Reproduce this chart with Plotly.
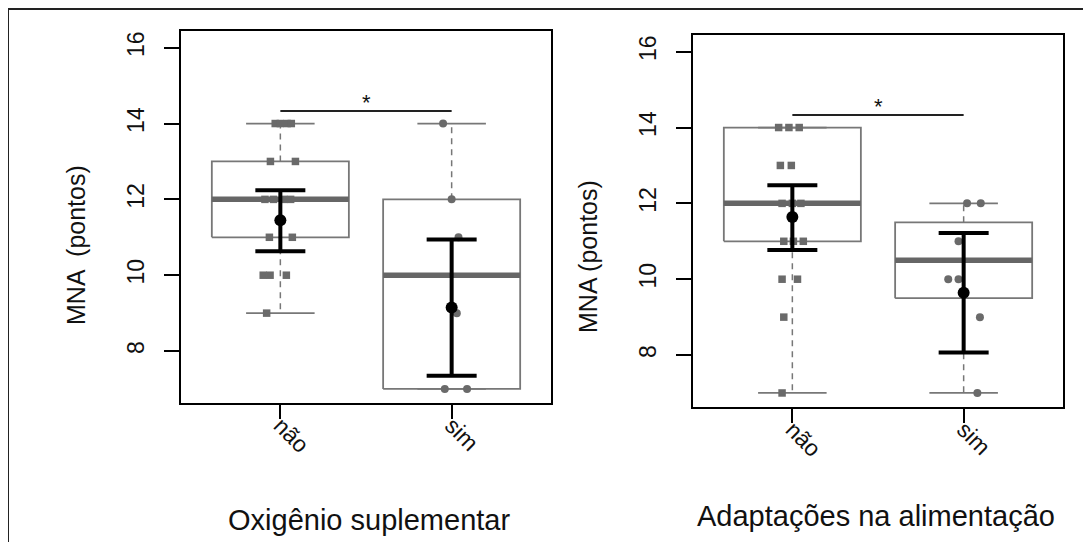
import plotly.graph_objects as go

W, H = 1091, 542
OFF = 8  # page body margin offset in the browser

categories = ["não", "sim"]
cat_pos = [1, 2]
y_tick_vals = [8, 10, 12, 14, 16]

# ---------- Panel 1: Oxigênio suplementar ----------
ox_title = "Oxigênio suplementar"
ox_ylabel = "MNA  (pontos)"
ox_q1 = [11, 7]
ox_median = [12, 10]
ox_q3 = [13, 12]
ox_whisk_lo = [9, 7]
ox_whisk_hi = [14, 14]
ox_mean = [11.45, 9.15]
ox_err_lo = [10.63, 7.35]
ox_err_hi = [12.24, 10.94]
ox_nao_pts = [14, 14, 14, 14, 13, 13, 12, 12, 12, 12, 11, 11, 10, 10, 10, 9]
ox_nao_jit = [-0.03, 0.0, 0.04, 0.064, -0.058, 0.088, -0.09, -0.04, 0.02, 0.06, -0.064, 0.07, -0.1, -0.06, 0.035, -0.08]
ox_sim_pts = [14, 12, 11, 9, 7, 7]
ox_sim_jit = [-0.05, 0.0, 0.04, 0.03, -0.04, 0.09]
ox_sig_y = 14.33

# ---------- Panel 2: Adaptações na alimentação ----------
ad_title = "Adaptações na alimentação"
ad_ylabel = "MNA (pontos)"
ad_q1 = [11, 9.5]
ad_median = [12, 10.5]
ad_q3 = [14, 11.5]
ad_whisk_lo = [7, 7]
ad_whisk_hi = [14, 12]
ad_mean = [11.64, 9.64]
ad_err_lo = [10.77, 8.07]
ad_err_hi = [12.48, 11.22]
ad_nao_pts = [14, 14, 14, 13, 13, 12, 12, 12, 11, 11, 11, 10, 10, 9, 7]
ad_nao_jit = [-0.08, -0.02, 0.04, -0.07, -0.006, -0.06, 0.0, 0.05, -0.05, 0.006, 0.064, -0.06, 0.03, -0.05, -0.06]
ad_sim_pts = [12, 12, 11, 10, 10, 9, 7]
ad_sim_jit = [0.02, 0.10, -0.03, -0.09, -0.03, 0.095, 0.08]
ad_sig_y = 14.33

BOX_COL = "#777777"
MED_COL = "#666666"
PT_COL = "#6a6a6a"
FONT = "Liberation Sans, Arial, sans-serif"

fig = go.Figure()


def px(x):
    return (x - OFF) / W


def py(y):
    return (H - (y - OFF)) / H


def add_panel(xa, ya, q1, med, q3, wlo, whi, mean, elo, ehi,
              pts_list, jit_list, symbols, sig_y):
    half = 0.4
    for i, c in enumerate(cat_pos):
        fig.add_trace(go.Scatter(x=[c, c, None, c, c], y=[q3[i], whi[i], None, q1[i], wlo[i]],
                                 mode="lines", line=dict(color=BOX_COL, width=1.5, dash="6px,5px"),
                                 xaxis=xa, yaxis=ya, hoverinfo="skip", showlegend=False))
        fig.add_trace(go.Scatter(x=[c - half / 2, c + half / 2, None, c - half / 2, c + half / 2],
                                 y=[whi[i], whi[i], None, wlo[i], wlo[i]],
                                 mode="lines", line=dict(color=BOX_COL, width=1.8),
                                 xaxis=xa, yaxis=ya, hoverinfo="skip", showlegend=False))
        fig.add_trace(go.Scatter(x=[c - half, c + half, c + half, c - half, c - half],
                                 y=[q1[i], q1[i], q3[i], q3[i], q1[i]],
                                 mode="lines", line=dict(color=BOX_COL, width=1.8),
                                 xaxis=xa, yaxis=ya, hoverinfo="skip", showlegend=False))
    for i, c in enumerate(cat_pos):
        fig.add_trace(go.Scatter(x=[c + j for j in jit_list[i]], y=pts_list[i], mode="markers",
                                 marker=dict(symbol=symbols[i], size=7.5 if symbols[i] == "square" else 8,
                                             color=PT_COL, line=dict(width=0)),
                                 xaxis=xa, yaxis=ya, hoverinfo="skip", showlegend=False))
    for i, c in enumerate(cat_pos):
        fig.add_trace(go.Scatter(x=[c - half, c + half], y=[med[i], med[i]],
                                 mode="lines", line=dict(color=MED_COL, width=5.5),
                                 xaxis=xa, yaxis=ya, hoverinfo="skip", showlegend=False))
    fig.add_trace(go.Scatter(x=cat_pos, y=mean, mode="markers",
                             marker=dict(color="black", size=12),
                             error_y=dict(type="data", symmetric=False,
                                          array=[h - m for h, m in zip(ehi, mean)],
                                          arrayminus=[m - l for m, l in zip(mean, elo)],
                                          color="black", thickness=4, width=25),
                             xaxis=xa, yaxis=ya, hoverinfo="skip", showlegend=False))
    fig.add_trace(go.Scatter(x=cat_pos, y=[sig_y, sig_y], mode="lines",
                             line=dict(color="#222222", width=2),
                             xaxis=xa, yaxis=ya, hoverinfo="skip", showlegend=False))


add_panel("x", "y", ox_q1, ox_median, ox_q3, ox_whisk_lo, ox_whisk_hi, ox_mean, ox_err_lo, ox_err_hi,
          [ox_nao_pts, ox_sim_pts], [ox_nao_jit, ox_sim_jit], ["square", "circle"], ox_sig_y)
add_panel("x2", "y2", ad_q1, ad_median, ad_q3, ad_whisk_lo, ad_whisk_hi, ad_mean, ad_err_lo, ad_err_hi,
          [ad_nao_pts, ad_sim_pts], [ad_nao_jit, ad_sim_jit], ["square", "circle"], ad_sig_y)


def xaxis_cfg(x0, x1):
    return dict(domain=[px(x0), px(x1)], range=[0.42, 2.58], tickvals=cat_pos, ticktext=categories,
                tickangle=45, ticks="outside", ticklen=14, tickwidth=2, tickcolor="black",
                showline=True, linewidth=2, linecolor="black", mirror=True,
                showgrid=False, zeroline=False, tickfont=dict(size=23, color="#111"),
                ticklabelstandoff=-16)


def yaxis_cfg(y0, y1, anchor):
    return dict(domain=[py(y1), py(y0)], range=[6.63, 16.44], tickvals=y_tick_vals,
                tickangle=-90, ticks="outside", ticklen=15, tickwidth=2, tickcolor="black",
                showline=True, linewidth=2, linecolor="black", mirror=True, anchor=anchor,
                showgrid=False, zeroline=False, tickfont=dict(size=23, color="#111"),
                ticklabelstandoff=11)


fig.update_layout(
    width=W, height=H, margin=dict(l=0, r=0, t=0, b=0),
    paper_bgcolor="white", plot_bgcolor="white",
    font=dict(family=FONT, color="#111"),
    xaxis=dict(xaxis_cfg(181, 551), anchor="y"),
    yaxis=yaxis_cfg(31, 403, "x"),
    xaxis2=dict(xaxis_cfg(693, 1063), anchor="y2"),
    yaxis2=yaxis_cfg(35, 407, "x2"),
)

ann = [
    dict(text=ox_title, x=px(369), y=py(520), xref="paper", yref="paper",
         showarrow=False, font=dict(size=29), xanchor="center", yanchor="middle"),
    dict(text=ad_title, x=px(876), y=py(516), xref="paper", yref="paper",
         showarrow=False, font=dict(size=29), xanchor="center", yanchor="middle"),
    dict(text=ox_ylabel, x=px(76), y=py(245), xref="paper", yref="paper", textangle=-90,
         showarrow=False, font=dict(size=25), xanchor="center", yanchor="middle"),
    dict(text=ad_ylabel, x=px(588), y=py(257), xref="paper", yref="paper", textangle=-90,
         showarrow=False, font=dict(size=25), xanchor="center", yanchor="middle"),
    dict(text="*", x=1.5, y=14.55, xref="x", yref="y", showarrow=False, font=dict(size=22),
         xanchor="center", yanchor="middle"),
    dict(text="*", x=1.5, y=14.55, xref="x2", yref="y2", showarrow=False, font=dict(size=22),
         xanchor="center", yanchor="middle"),
]
fig.update_layout(annotations=ann)

fig.update_layout(shapes=[
    dict(type="line", xref="paper", yref="paper", x0=px(8), x1=1.0, y0=py(9), y1=py(9),
         line=dict(color="#222222", width=2)),
    dict(type="line", xref="paper", yref="paper", x0=px(8), x1=px(8), y0=0, y1=py(9),
         line=dict(color="#222222", width=2)),
])

fig.write_html("out.html")
